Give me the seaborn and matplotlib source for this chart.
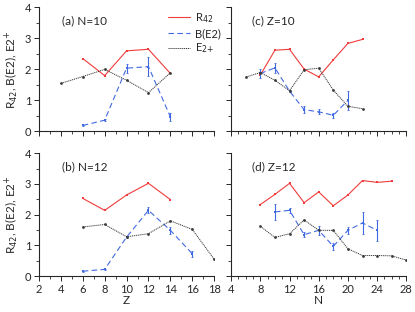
import matplotlib
matplotlib.use("Agg")
import matplotlib.pyplot as plt
from matplotlib.lines import Line2D
import seaborn as sns
import pandas as pd

# (a) N=10, vs Z
a_r42_x = [6, 8, 10, 12, 14]
a_r42 = [2.34, 1.79, 2.59, 2.64, 1.86]
a_be2_x = [6, 8, 10, 12, 14]
a_be2 = [0.18, 0.35, 2.03, 2.08, 0.46]
a_be2_err = [0.03, 0.03, 0.15, 0.30, 0.12]
a_e2_x = [4, 6, 8, 10, 12, 14]
a_e2 = [1.54, 1.76, 1.99, 1.64, 1.24, 1.88]

# (b) N=12, vs Z
b_r42_x = [6, 8, 10, 12, 14]
b_r42 = [2.53, 2.14, 2.64, 3.02, 2.49]
b_be2_x = [6, 8, 10, 12, 14, 16]
b_be2 = [0.16, 0.22, 1.27, 2.14, 1.49, 0.73]
b_be2_err = [0.02, 0.02, 0.04, 0.10, 0.12, 0.10]
b_e2_x = [6, 8, 10, 12, 14, 16, 18]
b_e2 = [1.60, 1.68, 1.28, 1.38, 1.80, 1.52, 0.55]

# (c) Z=10, vs N
c_r42_x = [8, 10, 12, 14, 16, 18, 20, 22]
c_r42 = [1.81, 2.61, 2.64, 2.00, 1.75, 2.30, 2.83, 2.96]
c_be2_x = [8, 10, 12, 14, 16, 18, 20]
c_be2 = [1.86, 2.04, 1.29, 0.69, 0.62, 0.51, 0.99]
c_be2_err = [0.15, 0.15, 0.04, 0.12, 0.08, 0.08, 0.30]
c_e2_x = [6, 8, 10, 12, 14, 16, 18, 20, 22]
c_e2 = [1.74, 1.89, 1.64, 1.30, 1.98, 2.03, 1.32, 0.80, 0.72]

# (d) Z=12, vs N
d_r42_x = [8, 10, 12, 14, 16, 18, 20, 22, 24, 26]
d_r42 = [2.33, 2.66, 3.02, 2.39, 2.74, 2.29, 2.64, 3.11, 3.05, 3.09]
d_be2_x = [10, 12, 14, 16, 18, 20, 22, 24]
d_be2 = [2.09, 2.14, 1.35, 1.49, 0.97, 1.49, 1.73, 1.49]
d_be2_err = [0.27, 0.08, 0.08, 0.15, 0.12, 0.12, 0.35, 0.35]
d_e2_x = [8, 10, 12, 14, 16, 18, 20, 22, 24, 26, 28]
d_e2 = [1.62, 1.26, 1.38, 1.83, 1.49, 1.49, 0.89, 0.67, 0.67, 0.66, 0.52]

panels = {
    "a": ("(a) N=10", a_r42_x, a_r42, a_be2_x, a_be2, a_be2_err, a_e2_x, a_e2),
    "b": ("(b) N=12", b_r42_x, b_r42, b_be2_x, b_be2, b_be2_err, b_e2_x, b_e2),
    "c": ("(c) Z=10", c_r42_x, c_r42, c_be2_x, c_be2, c_be2_err, c_e2_x, c_e2),
    "d": ("(d) Z=12", d_r42_x, d_r42, d_be2_x, d_be2, d_be2_err, d_e2_x, d_e2),
}

RED = "#f03c3c"
BLUE = "#4169e1"
GRAY = "#3a3a3a"
DASH = (0, (5, 3))
DOT = (0, (1.2, 0.8))

sns.set_style("ticks")
plt.rcParams["font.family"] = ["Lato", "DejaVu Sans"]
plt.rcParams["font.size"] = 8

fig = plt.figure(figsize=(4.15, 3.12), dpi=100)
pos = {
    "a": [0.094, 0.580, 0.422, 0.397],
    "c": [0.557, 0.580, 0.422, 0.397],
    "b": [0.094, 0.115, 0.422, 0.394],
    "d": [0.557, 0.115, 0.422, 0.394],
}

for key, (title, rx, ry, bx, by, be, ex, ey) in panels.items():
    ax = fig.add_axes(pos[key])
    df_r = pd.DataFrame({"x": rx, "y": ry})
    df_b = pd.DataFrame({"x": bx, "y": by})
    df_e = pd.DataFrame({"x": ex, "y": ey})

    sns.lineplot(data=df_r, x="x", y="y", ax=ax, color=RED, lw=0.8,
                 marker="s", markersize=2.0, markeredgewidth=0)
    sns.lineplot(data=df_b, x="x", y="y", ax=ax, color=BLUE, lw=0.8,
                 linestyle=DASH, marker="s", markersize=2.0,
                 markeredgewidth=0)
    ax.errorbar(bx, by, yerr=be, fmt="none", ecolor=BLUE, elinewidth=0.8,
                capsize=1.0, capthick=0.6)
    sns.lineplot(data=df_e, x="x", y="y", ax=ax, color=GRAY, lw=0.7,
                 linestyle=DOT, marker="o", markersize=2.0,
                 markeredgewidth=0)

    ax.set_ylim(0, 4)
    ax.set_yticks([0, 1, 2, 3, 4])
    ax.set_yticks([0.5, 1.5, 2.5, 3.5], minor=True)
    if key in ("a", "b"):
        ax.set_xlim(2, 18)
        ax.set_xticks(range(2, 19, 2))
        ax.set_xticks(range(3, 18, 2), minor=True)
        ax.set_ylabel("R$_{42}$, B(E2), E2$^{+}$", fontsize=8.5, labelpad=3)
    else:
        ax.set_xlim(4, 28)
        ax.set_xticks(range(4, 29, 4))
        ax.set_xticks([n for n in range(5, 28) if n % 4 != 0], minor=True)
        ax.set_ylabel("")
        ax.set_yticklabels([])
    if key in ("a", "c"):
        ax.set_xticklabels([])
        ax.set_xlabel("")
    else:
        ax.set_xlabel("Z" if key == "b" else "N", fontsize=8.5, labelpad=0)

    ax.tick_params(which="major", length=3.5, width=0.7, labelsize=8, pad=2)
    ax.tick_params(which="minor", length=2, width=0.6)
    for s in ("left", "bottom"):
        ax.spines[s].set_linewidth(0.8)
    sns.despine(ax=ax)
    ax.text(0.13 if key in ("a", "b") else 0.12, 0.86, title,
            transform=ax.transAxes, fontsize=8.5)

    if key == "a":
        handles = [
            Line2D([], [], color=RED, lw=0.8),
            Line2D([], [], color=BLUE, lw=0.8, linestyle=DASH),
            Line2D([], [], color=GRAY, lw=0.7, linestyle=DOT),
        ]
        ax.legend(handles, ["R$_{42}$", "B(E2)", "E$_{2{+}}$"],
                  loc="upper left", bbox_to_anchor=(0.69, 1.03), frameon=False,
                  fontsize=8, handlelength=2.0, handletextpad=0.5,
                  labelspacing=0.25, borderpad=0.2)

fig.savefig("out.png", dpi=100)
